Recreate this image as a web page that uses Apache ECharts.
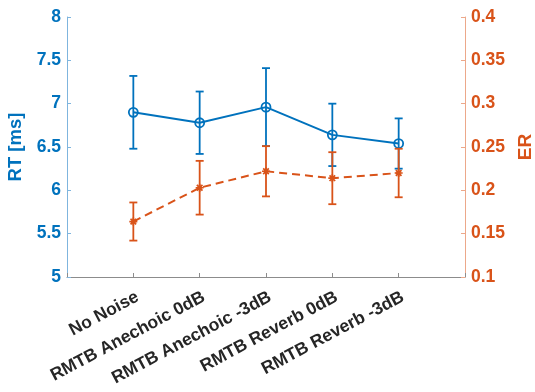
<!DOCTYPE html>
<html><head><meta charset="utf-8">
<script src="https://cdn.jsdelivr.net/npm/echarts@6/dist/echarts.min.js"></script>
<style>html,body{margin:0;padding:0;background:#fff}#c{width:535px;height:392px}</style>
</head><body><div id="c"></div>
<script>
var categories = ['No Noise', 'RMTB Anechoic 0dB', 'RMTB Anechoic -3dB', 'RMTB Reverb 0dB', 'RMTB Reverb -3dB'];
var rtMean = [6.90, 6.78, 6.96, 6.64, 6.54];
var rtErr  = [0.42, 0.36, 0.45, 0.36, 0.29];
var erMean = [0.164, 0.203, 0.222, 0.214, 0.220];
var erErr  = [0.022, 0.031, 0.029, 0.030, 0.028];
var rtTicks = [5, 5.5, 6, 6.5, 7, 7.5, 8];
var erTicks = [0.1, 0.15, 0.2, 0.25, 0.3, 0.35, 0.4];

var BLUE = '#0072BD', ORANGE = '#D95319';
var FONT = '"Liberation Sans", Arial, Helvetica, sans-serif';

function pts(means, errs) {
  return means.map(function (m, i) { return [i + 1, m, errs[i]]; });
}
function errRender(color) {
  return function (params, api) {
    var x = api.value(0), m = api.value(1), e = api.value(2);
    var hi = api.coord([x, m + e]), lo = api.coord([x, m - e]);
    var hw = 4;
    var st = { stroke: color, lineWidth: 1.8 };
    return { type: 'group', children: [
      { type: 'line', shape: { x1: hi[0], y1: hi[1], x2: lo[0], y2: lo[1] }, style: st },
      { type: 'line', shape: { x1: hi[0] - hw, y1: hi[1], x2: hi[0] + hw, y2: hi[1] }, style: st },
      { type: 'line', shape: { x1: lo[0] - hw, y1: lo[1], x2: lo[0] + hw, y2: lo[1] }, style: st }
    ]};
  };
}

var chart = echarts.init(document.getElementById('c'), null, { renderer: 'canvas' });
chart.setOption({
  animation: false,
  backgroundColor: '#fff',
  grid: { left: 67, right: 70, top: 17, bottom: 115, containLabel: false, outerBoundsMode: 'none' },
  xAxis: {
    type: 'value', min: 0, max: 6, interval: 1,
    axisLine: { show: true, lineStyle: { color: '#8c8c8c', width: 1 } },
    axisTick: { show: true, inside: true, length: 4, lineStyle: { color: '#8c8c8c' } },
    splitLine: { show: false },
    axisLabel: {
      rotate: 28, margin: 11, verticalAlign: 'top', color: '#262626', fontFamily: FONT, fontWeight: 'bold', fontSize: 17.5,
      formatter: function (v) { var i = Math.round(v) - 1; return (i >= 0 && i < categories.length) ? categories[i] : ''; }
    }
  },
  yAxis: [{
    type: 'value', min: rtTicks[0], max: rtTicks[rtTicks.length - 1], interval: 0.5, position: 'left',
    name: 'RT [ms]', nameLocation: 'middle', nameGap: 30, nameRotate: 90,
    nameTextStyle: { color: BLUE, fontFamily: FONT, fontWeight: 'bold', fontSize: 18.5 },
    axisLine: { show: true, lineStyle: { color: '#7fb5de', width: 1 } },
    axisTick: { show: true, inside: true, length: 4, lineStyle: { color: '#7fb5de' } },
    splitLine: { show: false },
    axisLabel: { color: BLUE, fontFamily: FONT, fontWeight: 'bold', fontSize: 17.5, margin: 6,
      formatter: function (v) { return String(+v.toFixed(2)); } }
  }, {
    type: 'value', min: erTicks[0], max: erTicks[erTicks.length - 1], interval: 0.05, position: 'right',
    name: 'ER', nameLocation: 'middle', nameGap: 50, nameRotate: 90,
    nameTextStyle: { color: ORANGE, fontFamily: FONT, fontWeight: 'bold', fontSize: 19 },
    axisLine: { show: true, lineStyle: { color: '#eca88a', width: 1 } },
    axisTick: { show: true, inside: true, length: 4, lineStyle: { color: '#eca88a' } },
    splitLine: { show: false },
    axisLabel: { color: ORANGE, fontFamily: FONT, fontWeight: 'bold', fontSize: 17.5, margin: 6,
      formatter: function (v) { return String(+v.toFixed(2)); } }
  }],
  series: [{
    type: 'custom', yAxisIndex: 0, z: 2, data: pts(rtMean, rtErr),
    encode: { x: 0, y: 1 }, renderItem: errRender(BLUE)
  }, {
    type: 'line', yAxisIndex: 0, z: 3,
    data: rtMean.map(function (m, i) { return [i + 1, m]; }),
    symbol: 'circle', symbolSize: 9,
    lineStyle: { color: BLUE, width: 2 },
    itemStyle: { color: 'rgba(0,0,0,0)', borderColor: BLUE, borderWidth: 1.8 }
  }, {
    type: 'custom', yAxisIndex: 1, z: 4, data: pts(erMean, erErr),
    encode: { x: 0, y: 1 }, renderItem: errRender(ORANGE)
  }, {
    type: 'line', yAxisIndex: 1, z: 5,
    data: erMean.map(function (m, i) { return [i + 1, m]; }),
    symbol: 'path://M0,5L10,5M5,0L5,10M1.5,1.5L8.5,8.5M8.5,1.5L1.5,8.5', symbolSize: 8,
    lineStyle: { color: ORANGE, width: 2, type: [8, 5] },
    itemStyle: { color: ORANGE, borderColor: ORANGE, borderWidth: 1.7 }
  }]
});
</script></body></html>
